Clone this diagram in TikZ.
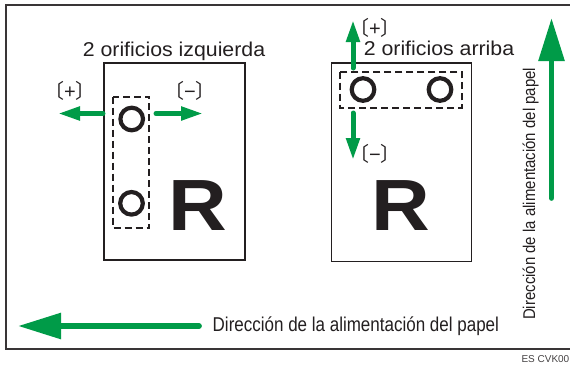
\documentclass[tikz,border=0pt]{standalone}
\usepackage{fontspec}
\setmainfont{Liberation Sans}
\newfontfamily\cjk{Noto Sans CJK JP}
\newfontfamily\titlefont[FakeStretch=1.065]{Liberation Sans}
\newfontfamily\feedfont[FakeStretch=0.85]{Liberation Sans}
\newfontfamily\vfeedfont[FakeStretch=0.88]{Liberation Sans}
\newfontfamily\rfont[FakeStretch=1.12]{Liberation Sans}
\usetikzlibrary{arrows.meta}
\definecolor{feedgreen}{RGB}{0,155,72}
\definecolor{inkc}{RGB}{35,31,32}
\begin{document}
\begin{tikzpicture}[x=1pt,y=-1pt,
  paper/.style={draw=inkc,line width=1.8pt},
  hole/.style={draw=inkc,line width=4.2pt},
  punchzone/.style={draw=inkc,line width=2pt,dash pattern=on 7pt off 4pt},
  smallarrow/.style={draw=feedgreen,line width=5pt,line cap=round,-{Triangle[length=22pt,width=13pt]}},
  bigarrow/.style={draw=feedgreen,line width=5.7pt,line cap=round,-{Triangle[length=43pt,width=25pt]}},
  title/.style={inner sep=0pt,anchor=base,text=inkc,font=\titlefont\fontsize{20}{24}\selectfont},
  signlabel/.style={inner sep=0pt,text=inkc,font=\fontsize{20}{22}\selectfont},
  bigR/.style={inner sep=0pt,anchor=base,text=inkc,font=\rfont\bfseries\fontsize{72.6}{80}\selectfont},
]
\useasboundingbox (0,0) rectangle (570,365);

% outer frame
\draw[line width=2.5pt,draw=inkc!90] (6,5) rectangle (590,349);

% ---------- left sheet ----------
\draw[paper] (104,63) rectangle (245,260);
\node[title] (tl) at (174,56.5) {2 orificios izquierda};
\draw[punchzone] (113.3,96.7) rectangle (149.3,228.3);
\node[hole,circle,minimum size=22.6pt,inner sep=0pt] (hl1) at (131.7,119) {};
\node[hole,circle,minimum size=22.6pt,inner sep=0pt] (hl2) at (131.5,203.3) {};
\node[bigR] (rl) at (198,230) {R};
\coordinate (la0) at (103,113.5);
\coordinate (la1) at (58,113.5);
\coordinate (ra0) at (156,113.5);
\coordinate (ra1) at (203,113.5);
\draw[smallarrow] (la0) -- (la1);
\draw[smallarrow] (ra0) -- (ra1);
\node[signlabel] (pl) at (70,91) {{\cjk 〔}+{\cjk 〕}};
\node[signlabel] (ml) at (190,91) {{\cjk 〔}−{\cjk 〕}};

% ---------- right sheet ----------
\draw[paper] (331.5,63) rectangle (471.5,261.5);
\node[title] (tr) at (439,55.5) {2 orificios arriba};
\draw[punchzone] (340,71.7) rectangle (461.7,107.7);
\node[hole,circle,minimum size=22.6pt,inner sep=0pt] (hr1) at (363,89.5) {};
\node[hole,circle,minimum size=22.6pt,inner sep=0pt] (hr2) at (440,89.5) {};
\node[bigR] (rr) at (401,230) {R};
\coordinate (ua0) at (353,68);
\coordinate (ua1) at (353,20);
\coordinate (da0) at (353,113);
\coordinate (da1) at (353,160);
\draw[smallarrow] (ua0) -- (ua1);
\draw[smallarrow] (da0) -- (da1);
\node[signlabel] (pr) at (375,28) {{\cjk 〔}+{\cjk 〕}};
\node[signlabel] (mr) at (375,153.5) {{\cjk 〔}−{\cjk 〕}};

% ---------- feed direction ----------
\coordinate (ba0) at (199,326);
\coordinate (ba1) at (18,326);
\draw[bigarrow] (ba0) -- (ba1);
\node[inner sep=0pt,anchor=base west,text=inkc,font=\feedfont\fontsize{20}{24}\selectfont] (ft) at (212.5,331.7) {Dirección de la alimentación del papel};

\coordinate (va0) at (551.5,198);
\coordinate (va1) at (551.5,18);
\draw[bigarrow] (va0) -- (va1);
\node[inner sep=0pt,anchor=base west,rotate=90,text=inkc,font=\vfeedfont\fontsize{17}{20}\selectfont] (fv) at (535,320) {Dirección de la alimentación del papel};

\node[inner sep=0pt,anchor=base east,text=inkc!85,font=\fontsize{10}{12}\selectfont] (code) at (569.5,362) {ES CVK00};
\end{tikzpicture}
\end{document}
